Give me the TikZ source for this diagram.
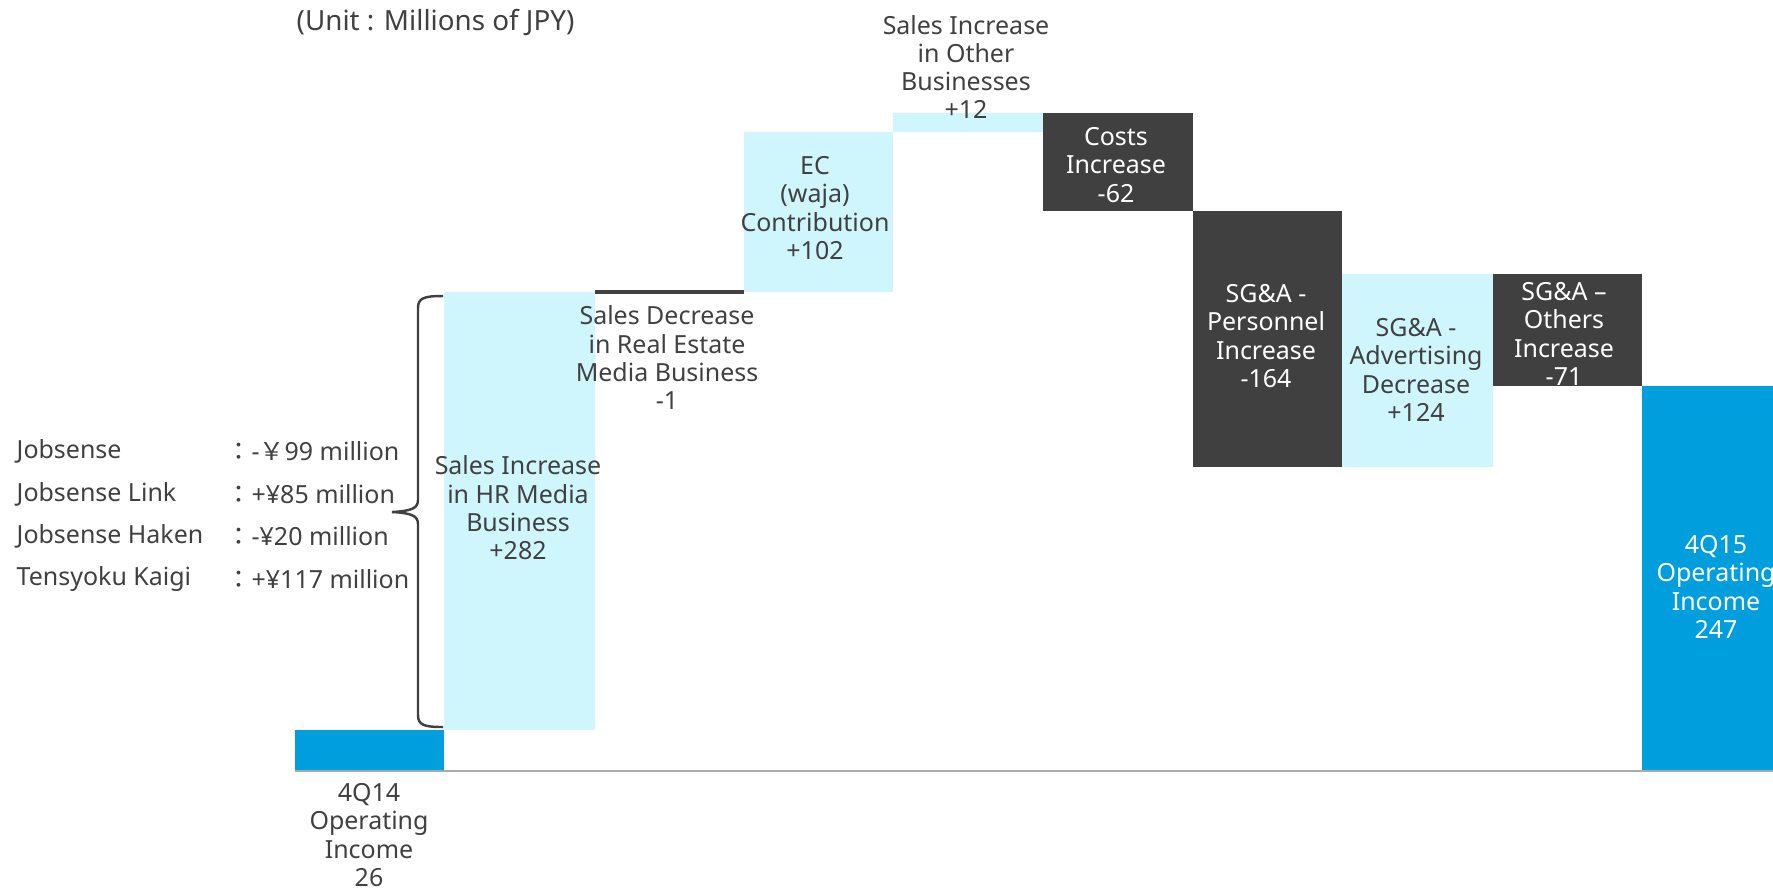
\documentclass[tikz,border=0pt]{standalone}
\usepackage{fontspec}
\setmainfont{Noto Sans}
\newfontfamily\cjk{Noto Sans CJK JP}
\usetikzlibrary{positioning}

\definecolor{lightbar}{RGB}{206,246,252}
\definecolor{darkbar}{RGB}{64,64,64}
\definecolor{bluebar}{RGB}{0,158,221}
\definecolor{axisgray}{RGB}{170,170,170}
\definecolor{textgray}{RGB}{64,64,64}

\begin{document}
\begin{tikzpicture}[
    x=0.01cm, y=-0.01cm,
    every node/.style={font=\fontsize{7.1}{8.05}\selectfont, text=textgray, inner sep=0pt},
    lbl/.style={align=center},
    wlbl/.style={align=center, text=white},
    item/.style={anchor=west},
    upbar/.style={fill=lightbar},
    downbar/.style={fill=darkbar},
    endbar/.style={fill=bluebar}
]
\useasboundingbox (0,0) rectangle (1773,893);

% --- bars ---
\fill[endbar] (295,730) rectangle (444,771);
\fill[upbar] (444,292) rectangle (595,730);
\draw[darkbar, line width=0.9pt] (595,292) -- (744,292);
\fill[upbar] (744,132) rectangle (893,292);
\fill[upbar] (893,113) rectangle (1043,132);
\fill[downbar] (1043,113) rectangle (1193,211);
\fill[downbar] (1193,211) rectangle (1342,467);
\fill[upbar] (1342,274) rectangle (1493,467);
\fill[downbar] (1493,274) rectangle (1642,386);
\fill[endbar] (1642,386) rectangle (1773,771);

% --- axis ---
\draw[axisgray, line width=0.6pt] (295,771) -- (1773,771);

% --- labels ---
\node (unit) [anchor=west, font=\fontsize{7.9}{9}\selectfont] at (296,23) {(Unit : Millions of JPY)};
\node (q14) [lbl] at (369,835) {4Q14\\Operating\\Income\\26};
\node (hr) [lbl] at (518,508) {Sales Increase\\in HR Media\\Business\\+282};
\node (estate) [lbl, anchor=north] at (667,305) {Sales Decrease\\in Real Estate\\Media Business\\-1};
\node (ec) [lbl] at (815,208) {EC\\(waja)\\Contribution\\+102};
\node (other) [lbl] at (966,67) {Sales Increase\\in Other\\Businesses\\+12};
\node (costs) [wlbl] at (1116,165) {Costs\\Increase\\-62};
\node (pers) [wlbl] at (1266,336) {SG\&A -\\Personnel\\Increase\\-164};
\node (adv) [lbl] at (1416,370) {SG\&A -\\Advertising\\Decrease\\+124};
\node (oth) [wlbl] at (1564,334) {SG\&A –\\Others\\Increase\\-71};
\node (q15) [wlbl] at (1716,587) {4Q15\\Operating\\Income\\247};

% --- breakdown ---
\node (js) [item] at (16,451) {Jobsense};
\node (jsl) [item] at (16,494) {Jobsense Link};
\node (jsh) [item] at (16,536) {Jobsense Haken};
\node (tk) [item] at (16,579) {Tensyoku Kaigi};
\node (jsv) [item] at (226,451) {{\cjk ：}-{\cjk ￥}99 million};
\node (jslv) [item] at (226,494) {{\cjk ：}+¥85 million};
\node (jshv) [item] at (226,536) {{\cjk ：}-¥20 million};
\node (tkv) [item] at (226,579) {{\cjk ：}+¥117 million};

\draw[darkbar, line width=0.7pt] (443,296) .. controls (424,296) and (418,298) .. (418,308)
    -- (418,500) .. controls (418,508) and (412,511) .. (392,512)
    .. controls (412,513) and (418,516) .. (418,524)
    -- (418,715) .. controls (418,725) and (424,727) .. (443,727);

\end{tikzpicture}
\end{document}
